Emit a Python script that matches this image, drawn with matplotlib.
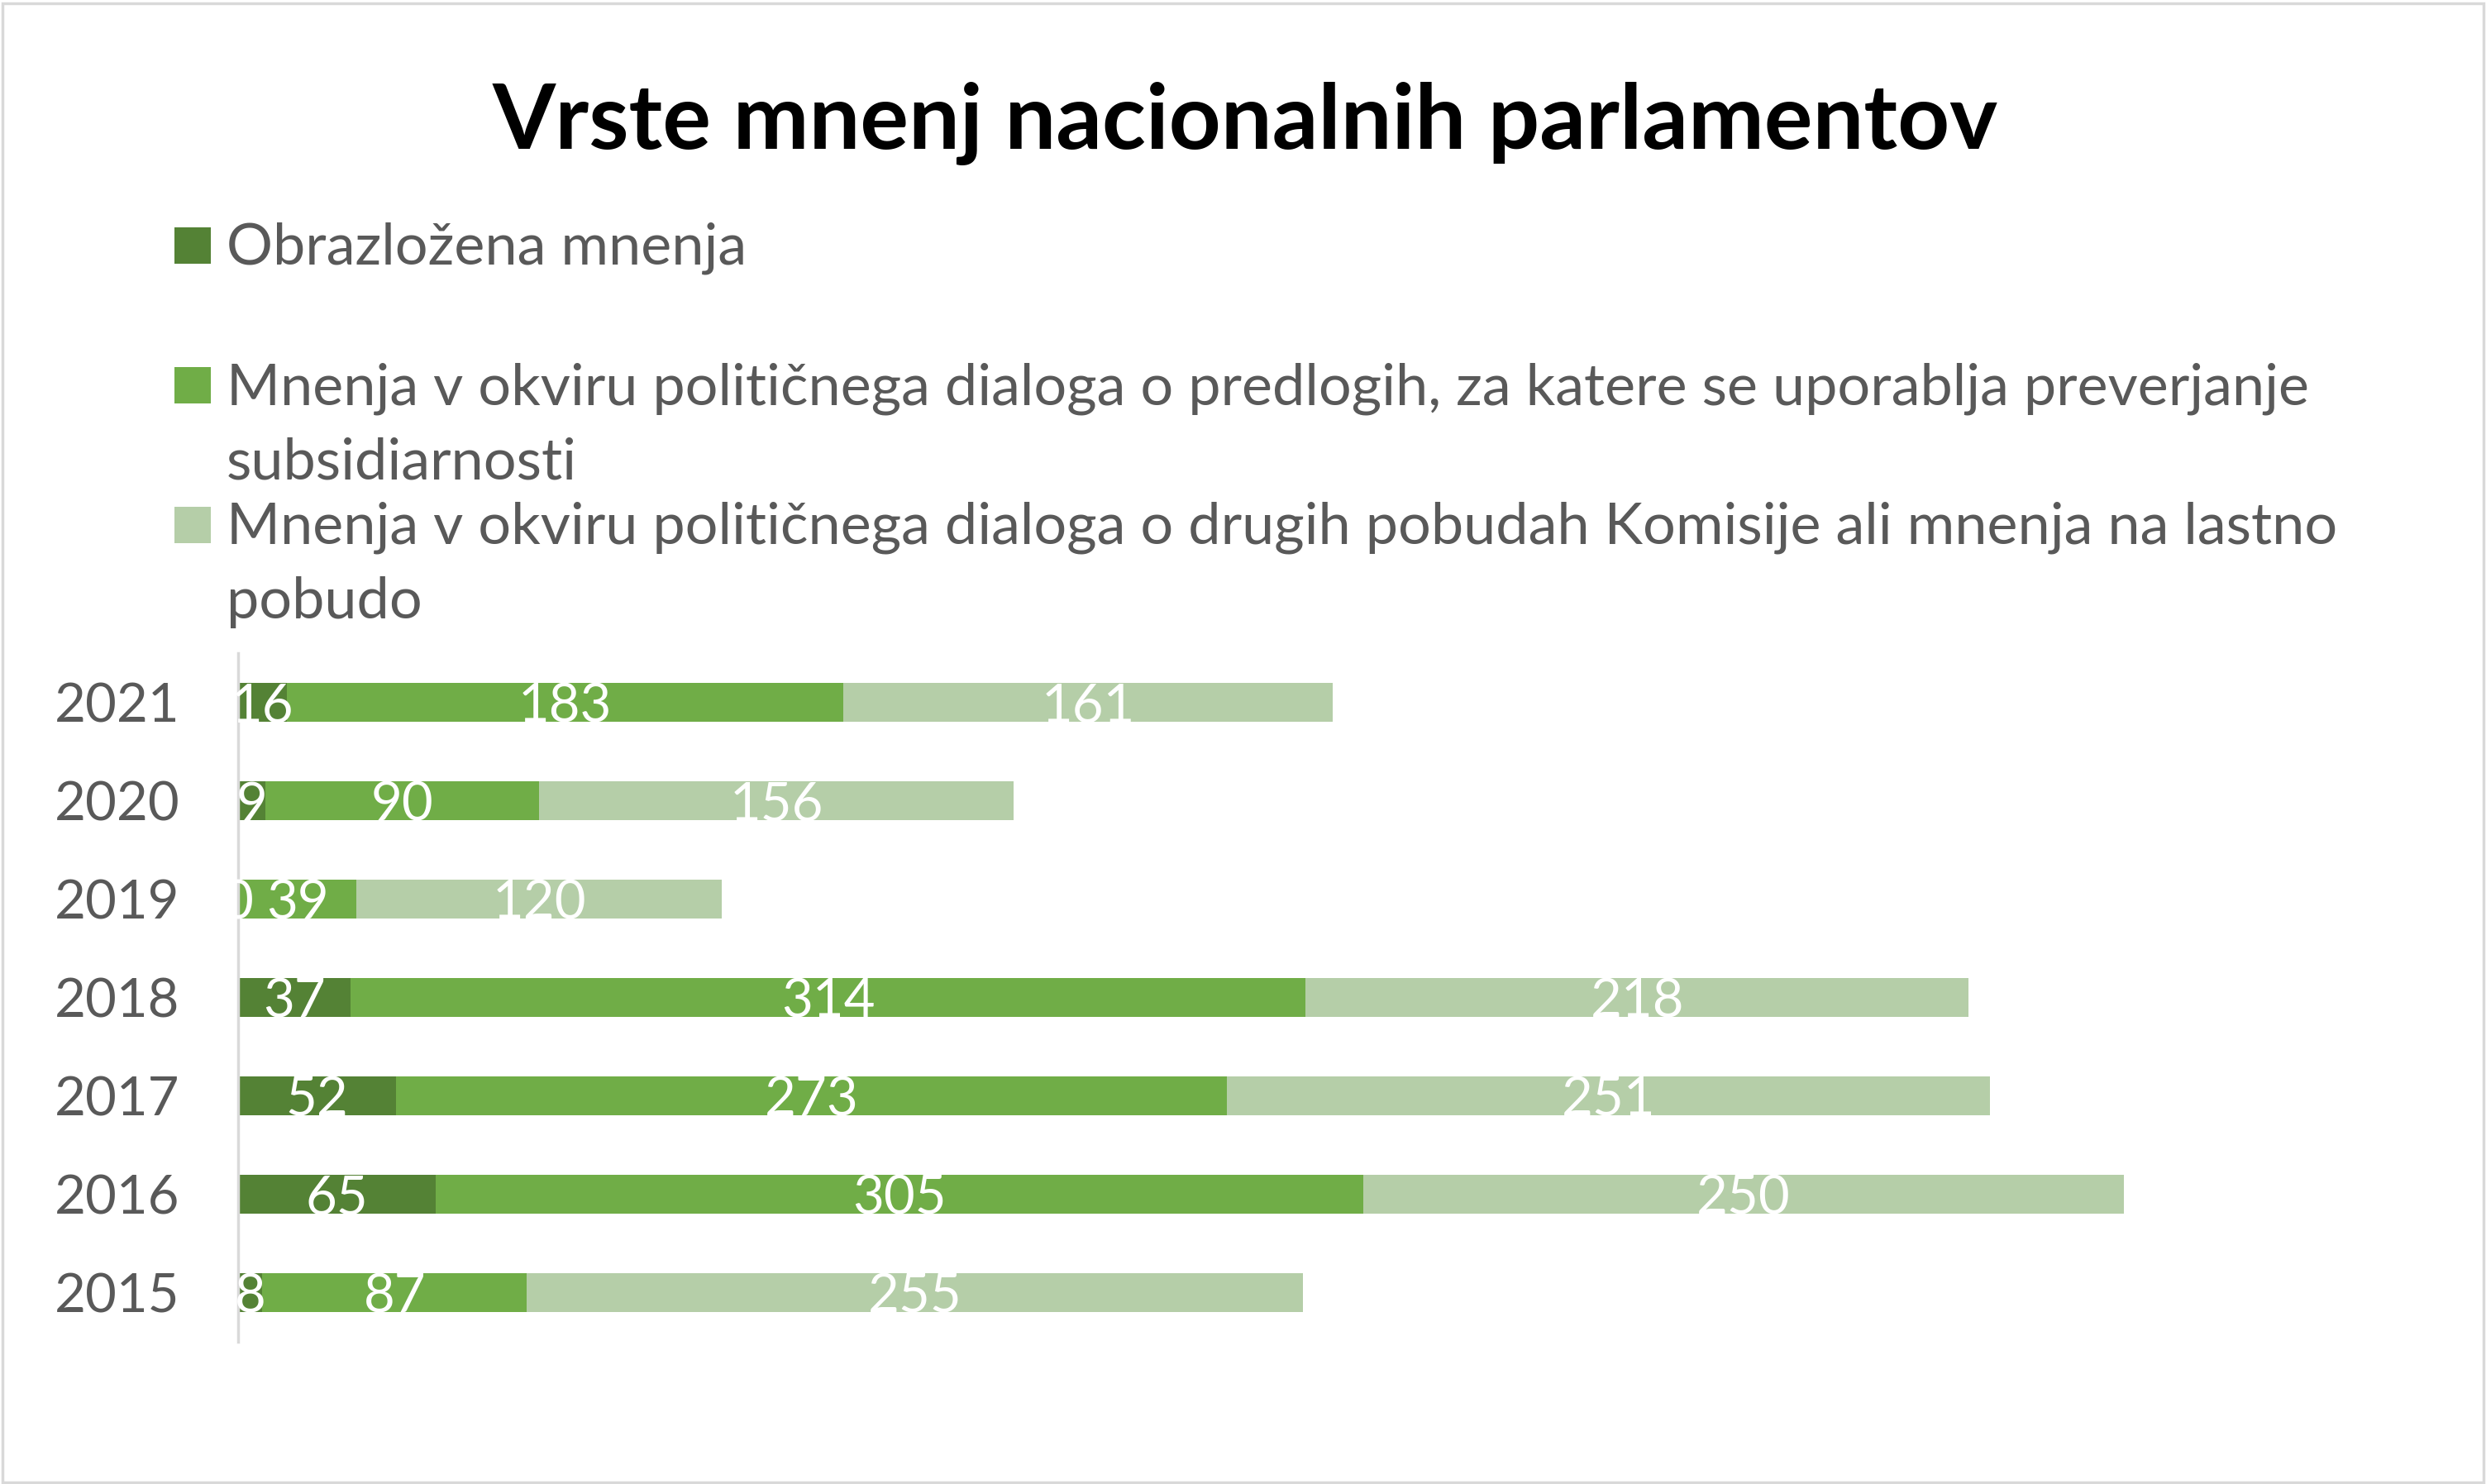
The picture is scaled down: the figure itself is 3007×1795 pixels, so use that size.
import matplotlib.pyplot as plt
from matplotlib.patches import Rectangle

# ── data ──────────────────────────────────────────────────────────────────────
years = ["2015", "2016", "2017", "2018", "2019", "2020", "2021"]
obrazlozena = [8, 65, 52, 37, 0, 9, 16]
subsidiarnost = [87, 305, 273, 314, 39, 90, 183]
drugo = [255, 250, 251, 218, 120, 156, 161]

series_names = [
    "Obrazložena mnenja",
    "Mnenja v okviru političnega dialoga o predlogih, za katere se uporablja preverjanje\nsubsidiarnosti",
    "Mnenja v okviru političnega dialoga o drugih pobudah Komisije ali mnenja na lastno\npobudo",
]
colors = ["#548235", "#70AD47", "#B5CEA8"]

W, H = 3007, 1795
FONT = "Lato"
GREY = "#595959"

fig = plt.figure(figsize=(W / 100, H / 100), dpi=100)
fig.patch.set_facecolor("white")

# outer border like the Excel chart area
fig.add_artist(Rectangle((0.001, 0.001), 0.998, 0.997, transform=fig.transFigure,
                         fill=False, edgecolor="#d9d9d9", linewidth=2.5))

fig.text(1506 / W, 1 - 150 / H, "Vrste mnenj nacionalnih parlamentov",
         ha="center", va="center", fontsize=79, fontweight="bold",
         family=FONT, color="black")

# ── legend (drawn by hand, Excel-style) ──────────────────────────────────────
legend_y = [297, 466, 635]   # square centres, px from top
line_step = 90               # px between wrapped lines
for name, col, ly in zip(series_names, colors, legend_y):
    fig.add_artist(Rectangle((211 / W, 1 - (ly + 22) / H), 44 / W, 44 / H,
                             transform=fig.transFigure, color=col, lw=0))
    for i, line in enumerate(name.split("\n")):
        fig.text(274 / W, 1 - (ly + 23 + i * line_step) / H, line,
                 ha="left", va="baseline", fontsize=50.5, family=FONT,
                 color=GREY)

# ── bars ──────────────────────────────────────────────────────────────────────
ax = fig.add_axes([288 / W, 172 / H, 2575 / W, 833 / H])
left = [0] * len(years)
for vals, col in zip([obrazlozena, subsidiarnost, drugo], colors):
    bars = ax.barh(years, vals, left=left, height=0.4, color=col, lw=0)
    anns = ax.bar_label(bars, labels=[str(v) for v in vals], label_type="center",
                        color="white", fontsize=47, family=FONT)
    for a in anns:
        a.xyann = (0, -4)
    left = [a + b for a, b in zip(left, vals)]

ax.set_xlim(0, 700)
ax.set_ylim(-0.5, 6.5)
ax.set_xticks([])
for s in ["top", "right", "bottom"]:
    ax.spines[s].set_visible(False)
ax.spines["left"].set_color("#d9d9d9")
ax.spines["left"].set_linewidth(2.5)
ax.tick_params(axis="y", length=0, pad=51, labelsize=47, labelcolor=GREY)
for t in ax.get_yticklabels():
    t.set_family(FONT)

fig.savefig("out.png", dpi=100)
